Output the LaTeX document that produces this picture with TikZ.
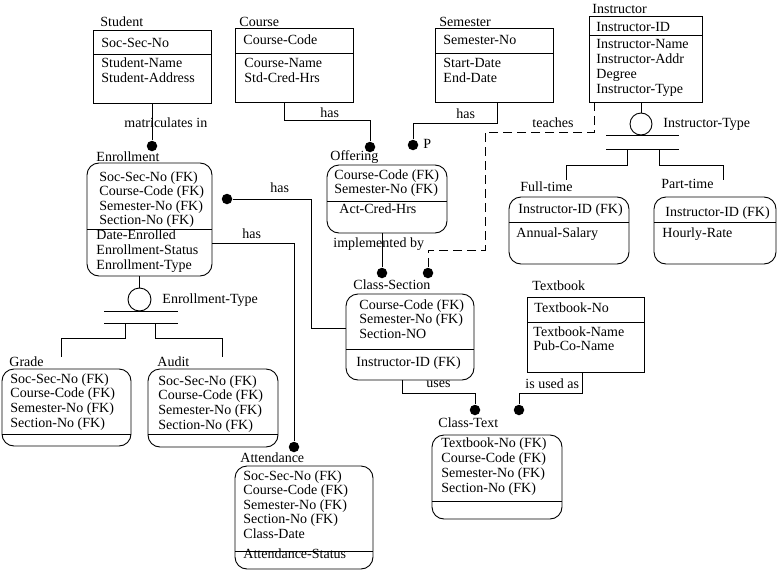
\documentclass[tikz,border=0pt]{standalone}
\usepackage{fontspec}
\setmainfont{Liberation Serif}
\usetikzlibrary{positioning}

\tikzset{
    txt/.style={anchor=base west, inner sep=0pt, font=\fontsize{14}{15}\selectfont},
    entity/.style={draw, rectangle, anchor=north west, inner sep=0pt, outer sep=0pt},
    weak/.style={entity, rounded corners=12pt},
    dot/.style={circle, fill, inner sep=0pt, minimum size=10.5pt},
    subcirc/.style={circle, draw, inner sep=0pt, minimum size=23pt},
    teach/.style={dash pattern=on 9pt off 5pt}
}

% style, name, x, y, width, height, divider offset
\newcommand{\entbox}[7]{%
    \node[#1, minimum width=#5pt, minimum height=#6pt] (#2) at (#3,#4) {};
    \draw ([yshift=-#7pt]#2.north west) -- ([yshift=-#7pt]#2.north east);}

% name, x, first baseline, step, lines
\newcommand{\fields}[5]{%
    \foreach \fld [count=\i] in {#5}
        \node[txt] (#1-\i) at (#2,{#3+#4*(\i-1)}) {\fld};}

\begin{document}
\begin{tikzpicture}[x=1pt, y=-1pt, line width=0.9pt]
    \useasboundingbox (0,0) rectangle (779,570);

    % strong entities
    \entbox{entity}{student}{93}{30}{118}{73}{24}
    \node[txt] (student-title) at (100,27) {Student};
    \fields{student-key}{101}{47}{15}{Soc-Sec-No}
    \fields{student-attr}{101}{67}{15}{Student-Name, Student-Address}

    \entbox{entity}{course}{235}{28}{118}{74}{25}
    \node[txt] (course-title) at (239,26) {Course};
    \fields{course-key}{243}{44}{15}{Course-Code}
    \fields{course-attr}{244}{67}{15}{Course-Name, Std-Cred-Hrs}

    \entbox{entity}{semester}{435}{28}{118}{74}{25}
    \node[txt] (semester-title) at (439,26) {Semester};
    \fields{semester-key}{443}{44}{15}{Semester-No}
    \fields{semester-attr}{443}{67}{15}{Start-Date, End-Date}

    \entbox{entity}{instructor}{589}{16}{113}{86}{19}
    \node[txt] (instructor-title) at (592,13) {Instructor};
    \fields{instructor-key}{596}{31}{15}{Instructor-ID}
    \fields{instructor-attr}{596}{48}{15}{Instructor-Name, Instructor-Addr, Degree, Instructor-Type}

    \entbox{entity}{textbook}{527}{297}{117}{75}{25}
    \node[txt] (textbook-title) at (532,290) {Textbook};
    \fields{textbook-key}{534}{312}{15}{Textbook-No}
    \fields{textbook-attr}{533}{336}{14}{Textbook-Name, Pub-Co-Name}

    % dependent entities
    \entbox{weak}{enroll}{87}{163}{125}{113}{66}
    \node[txt] (enroll-title) at (96,161) {Enrollment};
    \fields{enroll-key}{99}{181}{14.5}{Soc-Sec-No (FK), Course-Code (FK), Semester-No (FK), Section-No (FK)}
    \fields{enroll-attr}{96}{239}{15}{Date-Enrolled, Enrollment-Status, Enrollment-Type}

    \entbox{weak}{offering}{327}{165}{120}{68}{36}
    \node[txt] (offering-title) at (330,160) {Offering};
    \fields{offering-key}{334}{179}{14.5}{Course-Code (FK), Semester-No (FK)}
    \fields{offering-attr}{339}{213}{15}{Act-Cred-Hrs}

    \entbox{weak}{classsec}{346}{294}{128}{86}{55}
    \node[txt] (classsec-title) at (353,289) {Class-Section};
    \fields{classsec-key}{359}{309}{14.5}{Course-Code (FK), Semester-No (FK), Section-NO}
    \fields{classsec-attr}{356}{366}{15}{Instructor-ID (FK)}

    \entbox{weak}{grade}{2}{369}{129}{77}{65}
    \node[txt] (grade-title) at (9,366) {Grade};
    \fields{grade-key}{10}{383}{14.7}{Soc-Sec-No (FK), Course-Code (FK), Semester-No (FK), Section-No (FK)}

    \entbox{weak}{audit}{148}{369}{130}{78}{65}
    \node[txt] (audit-title) at (157,366) {Audit};
    \fields{audit-key}{158}{385}{14.7}{Soc-Sec-No (FK), Course-Code (FK), Semester-No (FK), Section-No (FK)}

    \entbox{weak}{attend}{235}{466}{138}{103}{85}
    \node[txt] (attend-title) at (240,462) {Attendance};
    \fields{attend-key}{243}{480}{14.5}{Soc-Sec-No (FK), Course-Code (FK), Semester-No (FK), Section-No (FK), Class-Date}
    \fields{attend-attr}{243}{558}{15}{Attendance-Status}

    \entbox{weak}{classtext}{432}{435}{130}{84}{66}
    \node[txt] (classtext-title) at (438,427) {Class-Text};
    \fields{classtext-key}{441}{447}{15.3}{Textbook-No (FK), Course-Code (FK), Semester-No (FK), Section-No (FK)}

    \entbox{weak}{fulltime}{509}{197}{120}{67}{25}
    \node[txt] (fulltime-title) at (520,191) {Full-time};
    \fields{fulltime-key}{518}{213}{15}{Instructor-ID (FK)}
    \fields{fulltime-attr}{516}{237}{15}{Annual-Salary}

    \entbox{weak}{parttime}{654}{197}{122}{67}{25}
    \node[txt] (parttime-title) at (661,188) {Part-time};
    \fields{parttime-key}{665}{216}{15}{Instructor-ID (FK)}
    \fields{parttime-attr}{662}{237}{15}{Hourly-Rate}

    % relationship ends
    \node[dot] (d-enroll) at (152,146) {};
    \node[dot] (d-offer-c) at (370,147) {};
    \node[dot] (d-offer-s) at (413,145) {};
    \node[dot] (d-enroll-cs) at (227,199) {};
    \node[dot] (d-attend) at (294,447) {};
    \node[dot] (d-cs-off) at (382,273) {};
    \node[dot] (d-cs-ins) at (428,273) {};
    \node[dot] (d-ct-cs) at (475,410) {};
    \node[dot] (d-ct-tb) at (519,410) {};

    \draw (student.south) -- (d-enroll);
    \draw ([xshift=-10pt]course.south) -- ++(0,18) -| (d-offer-c);
    \draw ([xshift=3pt]semester.south) -- ++(0,21) -| (d-offer-s);
    \draw[teach] ([xshift=5pt]instructor.south west) -- ++(0,30) -| ++(-109,118) -| (d-cs-ins);
    \draw (d-cs-off |- offering.south) -- (d-cs-off);
    \draw (d-enroll-cs) -- ++(84,0) |- ([yshift=8.5pt]classsec.west);
    \draw ([yshift=-23.5pt]enroll.east) -| (d-attend);
    \draw ([xshift=-8pt]classsec.south) -- ++(0,13) -| (d-ct-cs);
    \draw ([xshift=-3.5pt]textbook.south) -- ++(0,21) -| (d-ct-tb);

    % enrollment subtypes
    \node[subcirc] (etype) at (139.5,299.5) {};
    \coordinate (grade-in) at (61,357);
    \coordinate (audit-in) at (222,357);
    \draw (etype |- enroll.south) -- (etype);
    \draw ([xshift=-35.5pt]etype.south) -- ([xshift=38.5pt]etype.south);
    \draw ([xshift=-35.5pt,yshift=-12pt]etype.south) -- ([xshift=38.5pt,yshift=-12pt]etype.south);
    \draw ([xshift=-14.5pt,yshift=-12pt]etype.south) -- ++(0,15) -| (grade-in);
    \draw ([xshift=15.5pt,yshift=-12pt]etype.south) -- ++(0,15) -| (audit-in);

    % instructor subtypes
    \node[subcirc, minimum size=22pt] (itype) at (641,124) {};
    \coordinate (fulltime-in) at (566,180);
    \coordinate (parttime-in) at (723,180);
    \draw (itype |- instructor.south) -- (itype);
    \draw ([xshift=-35pt]itype.south) -- ([xshift=38pt]itype.south);
    \draw ([xshift=-35pt,yshift=-14pt]itype.south) -- ([xshift=38pt,yshift=-14pt]itype.south);
    \draw ([xshift=-14pt,yshift=-14pt]itype.south) -- ++(0,16) -| (fulltime-in);
    \draw ([xshift=18pt,yshift=-14pt]itype.south) -- ++(0,16) -| (parttime-in);

    % labels
    \node[txt] (matric-lbl) at (124,127) {matriculates in};
    \node[txt] (has-course) at (320,117) {has};
    \node[txt] (has-semester) at (456,118) {has};
    \node[txt] (p-lbl) at (423,148) {P};
    \node[txt] (teach-lbl) at (532,127) {teaches};
    \node[txt] (itype-lbl) at (663,127) {Instructor-Type};
    \node[txt] (has-enroll-cs) at (270,192) {has};
    \node[txt] (has-enroll-att) at (242,238) {has};
    \node[txt] (etype-lbl) at (162,303) {Enrollment-Type};
    \node[txt] (impl-lbl) at (333,247) {implemented by};
    \node[txt] (uses-lbl) at (426,387) {uses};
    \node[txt] (used-lbl) at (525,388) {is used as};
\end{tikzpicture}
\end{document}
